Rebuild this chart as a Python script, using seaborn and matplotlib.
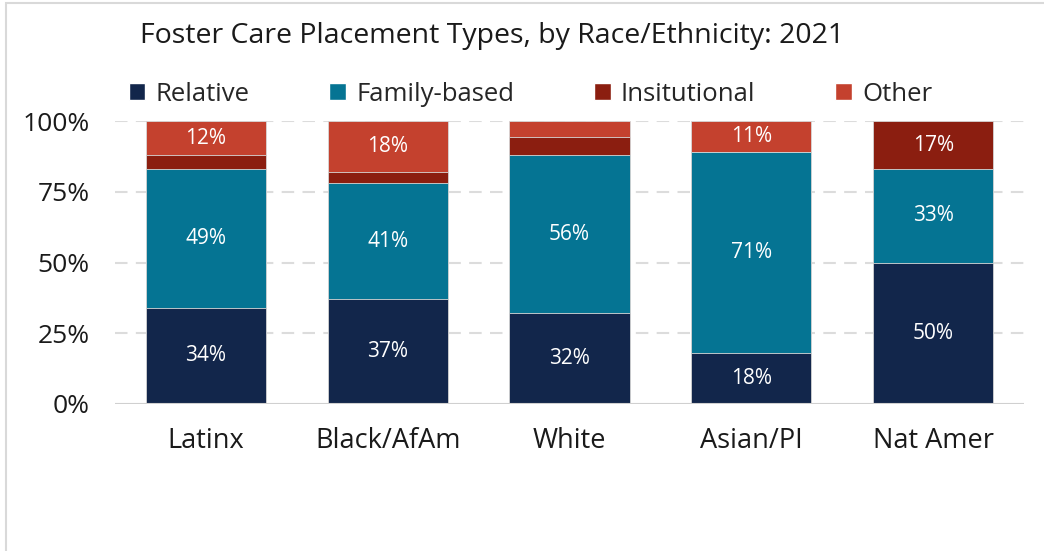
import numpy as np
import pandas as pd
import matplotlib.pyplot as plt
import seaborn as sns
from matplotlib.patches import Rectangle, Patch

# values (percent of placements)
groups = ["Latinx", "Black/AfAm", "White", "Asian/PI", "Nat Amer"]
relative = [34, 37, 32, 18, 50]
family_based = [49, 41, 56, 71, 33]
institutional = [5, 4, 6.5, 0, 17]
other = [12, 18, 5.5, 11, 0]

series = ["Relative", "Family-based", "Insitutional", "Other"]
colors = ["#12264b", "#057493", "#8b1e10", "#c4412e"]

df = pd.DataFrame({"group": groups, "Relative": relative, "Family-based": family_based,
                   "Insitutional": institutional, "Other": other})

sns.set_theme(style="white")
plt.rcParams["font.family"] = ["Open Sans", "DejaVu Sans"]

fig = plt.figure(figsize=(10.44, 5.51), dpi=100)
ax = fig.add_axes([0.110, 0.267, 0.871, 0.513])

# stacked bars: draw cumulative totals from the top down
cum = df[series].cumsum(axis=1)
for name, col in reversed(list(zip(series, colors))):
    sns.barplot(x=df["group"], y=cum[name], color=col, width=0.66, saturation=1,
                linewidth=0.6, edgecolor="#d8d8d8", ax=ax, zorder=3)

# segment labels
for i in range(len(groups)):
    bottom = 0
    for name in series:
        v = df.loc[i, name]
        if v >= 10:
            ax.text(i, bottom + v / 2, f"{v:.0f}%", ha="center", va="center",
                    color="white", fontsize=15, zorder=5)
        bottom += v

ax.set_ylim(0, 100)
ax.set_xlim(-0.5, len(groups) - 0.5)
ax.set_yticks([0, 25, 50, 75, 100])
ax.set_yticklabels([f"{t}%" for t in [0, 25, 50, 75, 100]], fontsize=19, color="#1a1a1a")
ax.tick_params(axis="y", pad=18, length=0)
ax.tick_params(axis="x", pad=17, length=0, labelsize=19.5, labelcolor="#1a1a1a")
ax.set_xlabel("")
ax.set_ylabel("")
for y in [25, 50, 75, 100]:
    ax.axhline(y, color="#dcdcdc", lw=1.5, ls=(0, (6, 4)), zorder=1)
ax.axhline(0, color="#d0d0d0", lw=1.5, zorder=4)
for s in ax.spines.values():
    s.set_visible(False)

handles = [Patch(facecolor=c, label=n) for n, c in zip(series, colors)]
fig.legend(handles=handles, loc="center", bbox_to_anchor=(0.508, 0.829), ncol=4,
           frameon=False, fontsize=18.5, handlelength=0.65, handleheight=0.65,
           handletextpad=0.4, columnspacing=3.1)

fig.text(0.471, 0.935, "Foster Care Placement Types, by Race/Ethnicity: 2021",
         ha="center", va="center", fontsize=20.5, color="#1a1a1a")

# light frame around the chart area
fig.patches.append(Rectangle((0.006, -0.01), 0.995, 1.004, transform=fig.transFigure,
                             fill=False, edgecolor="#d9d9d9", lw=1.5))

fig.savefig("out.png", dpi=100)
